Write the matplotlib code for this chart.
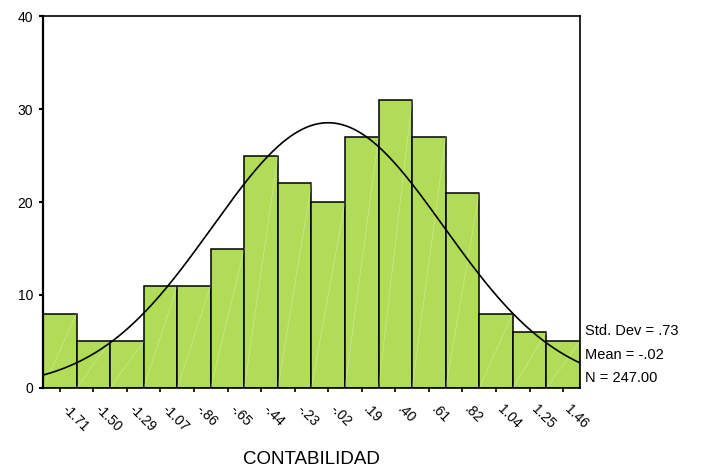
import matplotlib
matplotlib.use("Agg")
import matplotlib.pyplot as plt
import matplotlib.transforms as mtransforms
import numpy as np

plt.rcParams['font.family'] = ['Liberation Sans', 'DejaVu Sans']

# histogram of CONTABILIDAD scores
bin_labels = ['-1.71', '-1.50', '-1.29', '-1.07', '-.86', '-.65', '-.44', '-.23',
              '-.02', '.19', '.40', '.61', '.82', '1.04', '1.25', '1.46']
counts = [8, 5, 5, 11, 11, 15, 25, 22, 20, 27, 31, 27, 21, 8, 6, 5]
std_dev = 0.73
mean = -0.02
n_total = 247

first_mid, last_mid = -1.71, 1.46
centers = np.linspace(first_mid, last_mid, len(counts))
width = centers[1] - centers[0]

fig = plt.figure(figsize=(7.01, 4.72), dpi=100)
ax = fig.add_axes([0.0613, 0.178, 0.766, 0.788])

bars = ax.bar(centers, counts, width=width, color='#b0dc58',
              edgecolor='black', linewidth=1.1, zorder=2)

# faint seams across each bar, corner to corner
for b in bars:
    x0, y0 = b.get_x(), b.get_y()
    ax.plot([x0, x0 + b.get_width()], [y0, y0 + b.get_height()],
            color='white', lw=0.6, alpha=0.3, zorder=2.5)

x_lo = centers[0] - width / 2
x_hi = centers[-1] + width / 2
xs = np.linspace(x_lo, x_hi, 400)
pdf = np.exp(-0.5 * ((xs - mean) / std_dev) ** 2) / (std_dev * np.sqrt(2 * np.pi))
ax.plot(xs, pdf * n_total * width, color='black', lw=1.2, zorder=3)

ax.set_xlim(x_lo, x_hi)
ax.set_ylim(0, 40)

ax.set_yticks([0, 10, 20, 30, 40])
ax.set_yticklabels(['0', '10', '20', '30', '40'], fontsize=10)
ax.tick_params(axis='y', direction='out', length=3, width=1.5, pad=4)

ax.set_xticks(centers)
ax.set_xticklabels(bin_labels, fontsize=10, rotation=-45,
                   ha='left', va='center', rotation_mode='anchor')
ax.tick_params(axis='x', direction='out', length=3, width=1.2, pad=11)
shift = mtransforms.ScaledTranslation(3 / 72, 0, fig.dpi_scale_trans)
for lab in ax.get_xticklabels():
    lab.set_transform(lab.get_transform() + shift)

for side in ['top', 'right', 'bottom']:
    ax.spines[side].set_linewidth(1.2)
ax.spines['left'].set_linewidth(1.6)

fig.text(0.4445, 0.027, 'CONTABILIDAD', fontsize=13.5, ha='center', va='center')

stats = ['Std. Dev = .73', 'Mean = -.02', 'N = 247.00']
for i, s in enumerate(stats):
    ax.text(1.01, 0.153 - i * 0.063, s, transform=ax.transAxes,
            fontsize=10.5, ha='left', va='center')

fig.savefig('out.png', dpi=100)
